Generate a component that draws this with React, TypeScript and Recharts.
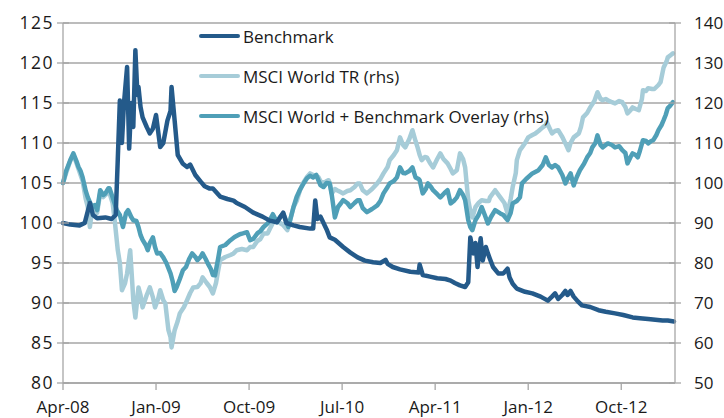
import React from 'react';
import { LineChart, Line, XAxis, YAxis, CartesianGrid, Legend } from 'recharts';

// ── Data (x = months since Apr-08, value) ─────────────────────────
const tickMonths = [0, 9, 18, 27, 36, 45, 54];
const tickLabels = ['Apr-08', 'Jan-09', 'Oct-09', 'Jul-10', 'Apr-11', 'Jan-12', 'Oct-12'];
const leftTicks = [80, 85, 90, 95, 100, 105, 110, 115, 120, 125];
const rightTicks = [50, 60, 70, 80, 90, 100, 110, 120, 130, 140];

// Benchmark, left axis
const benchmark: [number, number][] = [
  [0, 100], [0.7, 99.8], [1.6, 99.7], [2.1, 100], [2.6, 102.5], [2.9, 101], [3.3, 100.6], [4.1, 100.7],
  [4.7, 100.5], [5.1, 101], [5.3, 108], [5.5, 115.3], [5.7, 110], [5.9, 115], [6.2, 119.5], [6.4, 109.3],
  [6.6, 115], [6.8, 112], [7.0, 121.6], [7.2, 116], [7.3, 117], [7.5, 114.5], [7.7, 113.2], [8.1, 112],
  [8.4, 111.2], [8.7, 111.8], [9.0, 113.5], [9.4, 109.5], [9.7, 110], [10.1, 112.8], [10.4, 114], [10.5, 117],
  [10.8, 112.8], [11.1, 108.5], [11.6, 107.4], [12.0, 107], [12.3, 107.3], [12.8, 106], [13.3, 105.2],
  [13.7, 104.6], [14.2, 104.3], [14.5, 104.3], [15.2, 103.3], [15.9, 103], [16.5, 102.8], [16.8, 102.5],
  [17.6, 102], [18.4, 101.3], [19.3, 100.8], [20.0, 100.3], [20.7, 100.1], [21.3, 101.3], [21.6, 100],
  [22.3, 99.7], [22.9, 99.5], [23.9, 99.3], [24.2, 99.3], [24.4, 102.8], [24.6, 100.5], [24.9, 100.8],
  [25.2, 100], [25.5, 99.2], [25.8, 98.2], [26.3, 97.9], [27.1, 97], [27.8, 96.3], [28.5, 95.7], [29.2, 95.3],
  [30.0, 95.1], [30.7, 95], [31.2, 95.4], [31.4, 94.9], [31.9, 94.5], [32.6, 94.2], [33.6, 93.9], [34.4, 93.8],
  [34.5, 94.8], [34.8, 93.5], [35.5, 93.3], [36.2, 93.1], [37.0, 93], [37.5, 92.8], [37.9, 92.5], [38.4, 92.2],
  [38.9, 92], [39.2, 92.6], [39.4, 98.2], [39.7, 96.2], [39.9, 97.5], [40.1, 94.5], [40.4, 98.1], [40.6, 95.3],
  [40.9, 97], [41.1, 96.2], [41.3, 95.5], [41.6, 94.5], [42.1, 93.7], [42.6, 93.7], [43.0, 94.3], [43.2, 93.2],
  [43.5, 92.4], [43.9, 91.8], [44.7, 91.4], [45.4, 91.2], [46.2, 90.8], [46.9, 90.3], [47.3, 90.8],
  [47.6, 91.2], [47.9, 90.5], [48.3, 91], [48.6, 91.5], [48.8, 91], [49.1, 91.5], [49.4, 90.8], [49.8, 90.2],
  [50.2, 89.7], [51.0, 89.5], [51.8, 89.1], [52.5, 88.9], [53.4, 88.7], [54.2, 88.5], [55.1, 88.2],
  [55.8, 88.1], [56.6, 88], [57.3, 87.9], [58.0, 87.8], [58.5, 87.8], [59.1, 87.7],
];

// MSCI World TR, right axis
const msciWorld: [number, number][] = [
  [0, 100], [0.3, 102.5], [0.7, 105.5], [1.0, 107], [1.3, 105], [1.5, 103.5], [1.7, 102], [1.9, 100.5],
  [2.2, 96], [2.4, 94], [2.6, 89], [2.8, 93], [3.1, 94], [3.3, 92.5], [3.6, 97.5], [3.9, 96.5], [4.1, 97],
  [4.4, 98], [4.5, 97.5], [4.8, 95], [5.0, 90.7], [5.3, 83.2], [5.5, 80], [5.7, 73.2], [6.0, 74.9],
  [6.2, 77.4], [6.5, 83.2], [6.7, 75], [6.8, 70.7], [7.0, 66.4], [7.3, 73.9], [7.5, 72], [7.7, 68.9],
  [8.1, 72], [8.4, 73.9], [8.7, 71.4], [8.9, 68.9], [9.2, 71], [9.4, 73.2], [9.7, 70.7], [9.9, 69.9],
  [10.2, 63.2], [10.4, 61.5], [10.5, 58.9], [10.8, 63.2], [11.1, 65.5], [11.3, 67.4], [11.7, 69], [12.0, 70.7],
  [12.3, 72.5], [12.6, 73.9], [13.0, 74], [13.3, 74.9], [13.5, 76.4], [13.9, 75], [14.2, 74], [14.5, 72.4],
  [14.8, 75], [15.0, 78], [15.2, 80.7], [15.7, 81.5], [16.2, 82], [16.5, 82.4], [16.8, 83.2], [17.3, 83.5],
  [17.8, 83.2], [18.1, 84], [18.4, 84], [18.8, 85.5], [19.1, 86], [19.4, 87.4], [19.8, 87.4], [20.0, 88.5],
  [20.3, 90], [20.7, 90.7], [21.0, 90], [21.3, 89.5], [21.7, 88.2], [22.0, 91], [22.3, 94], [22.6, 95.5],
  [22.9, 98], [23.2, 99.9], [23.6, 101.5], [23.9, 102.4], [24.2, 102], [24.4, 101.9], [24.7, 101.5],
  [24.9, 100.5], [25.2, 99.9], [25.5, 100.5], [25.7, 100.7], [25.8, 100], [26.0, 97.4], [26.3, 98.5],
  [26.5, 98.2], [26.8, 97.8], [27.1, 97.4], [27.5, 98], [27.8, 98.2], [28.2, 99], [28.5, 99.9], [28.7, 99.9],
  [29.0, 98.2], [29.4, 97.4], [29.9, 98.5], [30.4, 99.9], [30.7, 101], [31.0, 102.4], [31.4, 104],
  [31.6, 105.7], [32.0, 107], [32.3, 108.2], [32.6, 111.4], [32.9, 109.5], [33.1, 108.9], [33.5, 111],
  [33.8, 113.2], [34.1, 110.5], [34.3, 108.9], [34.5, 107], [34.7, 105.7], [35.0, 106.5], [35.2, 106.4],
  [35.5, 105], [35.8, 103.9], [36.2, 106], [36.5, 107.4], [36.8, 106], [37.2, 104.9], [37.5, 103.5],
  [37.7, 102.4], [38.1, 103.2], [38.4, 107.4], [38.7, 106], [38.9, 103.9], [39.2, 95.7], [39.4, 93],
  [39.6, 91.4], [39.9, 94], [40.2, 95], [40.5, 95.7], [40.9, 95.5], [41.2, 95.5], [41.3, 96.4], [41.8, 98.2],
  [42.3, 96.4], [42.7, 95], [43.0, 92.4], [43.3, 96], [43.5, 99], [43.8, 102.5], [43.9, 105.7], [44.2, 108.2],
  [44.4, 108.9], [44.7, 110], [45.0, 111.4], [45.4, 112], [45.7, 112.4], [46.0, 113], [46.4, 113.9],
  [46.7, 114.5], [46.8, 115.2], [47.1, 113.5], [47.3, 112.4], [47.6, 113], [47.9, 113.2], [48.3, 111.5],
  [48.6, 109.9], [48.9, 108.2], [49.1, 110], [49.4, 111.4], [49.9, 112.4], [50.1, 114], [50.3, 116.4],
  [50.7, 117.5], [51.0, 118.9], [51.4, 120.5], [51.7, 122.7], [52.0, 121], [52.2, 120.7], [52.5, 121],
  [52.7, 120.7], [53.1, 120.2], [53.4, 119.9], [53.8, 120.5], [54.1, 120.2], [54.4, 119], [54.6, 117.4],
  [54.9, 118.2], [55.1, 118.9], [55.4, 118.5], [55.7, 118.2], [56.0, 121], [56.1, 123.2], [56.4, 123],
  [56.6, 123.7], [57.0, 123.5], [57.2, 123.5], [57.6, 124.5], [57.8, 125.2], [58.1, 128.9], [58.4, 130.5],
  [58.5, 131.4], [58.8, 132], [59.0, 132.4],
];

// MSCI World + Benchmark Overlay, right axis
const overlay: [number, number][] = [
  [0, 100], [0.3, 103], [0.7, 105.7], [1.0, 107.4], [1.3, 105.5], [1.5, 104], [1.7, 103], [1.9, 101.4],
  [2.2, 98], [2.4, 96.4], [2.8, 94], [3.1, 94.5], [3.3, 93.2], [3.6, 98.2], [3.9, 97], [4.1, 97.4],
  [4.4, 98.7], [4.5, 98.7], [4.8, 96.4], [5.2, 93.2], [5.5, 92], [5.8, 89], [6.1, 92.5], [6.3, 93.2],
  [6.6, 91.5], [6.8, 90.7], [7.1, 90.5], [7.3, 89], [7.5, 87], [7.7, 85.8], [8.0, 84.5], [8.2, 83.2],
  [8.4, 85], [8.7, 86.4], [8.9, 84], [9.1, 82.4], [9.4, 82.5], [9.7, 81.4], [10.0, 80], [10.4, 77.4],
  [10.6, 75.5], [10.8, 73], [11.0, 74], [11.3, 76], [11.6, 78.2], [11.9, 79], [12.2, 81], [12.5, 82.4],
  [12.8, 81.5], [13.0, 80.7], [13.3, 81.5], [13.5, 82.4], [13.8, 81], [14.0, 79.9], [14.3, 78.5], [14.5, 77],
  [14.7, 76.9], [15.0, 81], [15.2, 84], [15.7, 84.5], [16.2, 85.7], [16.6, 86.5], [17.1, 87.2], [17.4, 87.4],
  [17.8, 87.7], [18.1, 85.7], [18.4, 86], [18.8, 87.4], [19.1, 88], [19.4, 89], [19.8, 89.9], [20.0, 90.7],
  [20.3, 92.2], [20.7, 90.2], [21.0, 91.5], [21.3, 92.4], [21.6, 90.5], [21.8, 89], [22.1, 92], [22.3, 94],
  [22.6, 96.5], [22.9, 98.2], [23.3, 100], [23.6, 101.2], [23.9, 101.8], [24.2, 101.4], [24.5, 102],
  [24.7, 100.7], [24.9, 99.5], [25.2, 99], [25.5, 100], [25.8, 99.9], [26.0, 97], [26.3, 91.4], [26.6, 94],
  [26.9, 95], [27.1, 95.7], [27.5, 95], [27.8, 94], [28.2, 95], [28.5, 95.7], [28.7, 95.7], [29.0, 93.7],
  [29.4, 92.7], [29.9, 93.5], [30.4, 94.4], [30.7, 95.5], [31.0, 97.4], [31.4, 99], [31.6, 99.9], [32.0, 100.5],
  [32.3, 101.4], [32.6, 103.9], [32.9, 102.5], [33.1, 102.4], [33.5, 103], [33.8, 103.9], [34.1, 101.4],
  [34.4, 101], [34.5, 100.7], [34.8, 97.4], [35.1, 98.5], [35.3, 99.9], [35.6, 99], [35.8, 98.2], [36.2, 97.2],
  [36.5, 96.4], [36.9, 97.5], [37.2, 98.2], [37.5, 94.9], [37.8, 95.5], [38.1, 96.4], [38.4, 98.2], [38.7, 97],
  [38.9, 95.7], [39.2, 90.7], [39.4, 89], [39.6, 88.2], [39.9, 90.7], [40.2, 92], [40.5, 94], [40.8, 92],
  [41.1, 89.9], [41.4, 91.5], [41.8, 93.2], [42.3, 92.4], [42.6, 92], [43.0, 90.7], [43.3, 92.5], [43.5, 94.9],
  [43.9, 95.5], [44.2, 96.4], [44.4, 99.9], [44.8, 101], [45.4, 102.4], [46.0, 103.2], [46.4, 104.5],
  [46.7, 106.4], [47.0, 104.5], [47.3, 103.9], [47.6, 104.5], [47.9, 103.9], [48.3, 102], [48.6, 99.9],
  [48.9, 101.5], [49.1, 102.4], [49.4, 99.4], [49.7, 101.5], [50.0, 103.2], [50.4, 104.8], [50.7, 106.4],
  [51.0, 107.5], [51.2, 108.9], [51.5, 110], [51.7, 111.9], [52.0, 109.5], [52.2, 108.9], [52.5, 109.5],
  [52.7, 109.9], [53.1, 109.5], [53.4, 108.9], [53.8, 109.2], [54.1, 108.2], [54.4, 107.5], [54.6, 104.9],
  [54.9, 106.5], [55.1, 107.4], [55.4, 107], [55.6, 106.4], [55.8, 108], [56.1, 110.7], [56.4, 110.5],
  [56.6, 109.9], [56.9, 110.5], [57.1, 110.7], [57.4, 112], [57.6, 113.2], [57.9, 114.5], [58.1, 115.7],
  [58.3, 117], [58.5, 118.7], [58.7, 119.2], [59.0, 120.2],
];

const seriesNames = ['Benchmark', 'MSCI World TR (rhs)', 'MSCI World + Benchmark Overlay (rhs)'];
const seriesColors = ['#245a8a', '#a6ccd8', '#4f9fb7'];

const GRID = '#a6a6a6';
const INK = '#1a1a1a';
const FONT = '"Open Sans", "Noto Sans", sans-serif';

const toPoints = (arr: [number, number][]) => arr.map(([m, v]) => ({ m, v }));

// ── Axis ticks (cross the axis line, like the original) ──────────
function LeftTick(props: any) {
  const { x, y, payload } = props;
  return (
    <g>
      <line x1={x + 4} x2={x + 16} y1={y} y2={y} stroke={GRID} strokeWidth={1.3} />
      <text x={x + 1} y={y} dy="0.355em" textAnchor="end" fontSize={17.5} fill={INK}
        fontFamily={FONT} letterSpacing={1.5}>
        {payload.value}
      </text>
    </g>
  );
}

function RightTick(props: any) {
  const { x, y, payload } = props;
  return (
    <g>
      <line x1={x - 25} x2={x - 13} y1={y} y2={y} stroke={GRID} strokeWidth={1.3} />
      <text x={x} y={y} dy="0.355em" textAnchor="start" fontSize={17} fill={INK} fontFamily={FONT}>
        {payload.value}
      </text>
    </g>
  );
}

function LegendBox() {
  return (
    <div style={{ fontFamily: FONT, fontSize: 17, color: INK }}>
      {seriesNames.map((name, i) => (
        <div key={name} style={{ display: 'flex', alignItems: 'center', height: 40, whiteSpace: 'nowrap' }}>
          <span style={{
            display: 'inline-block', width: 41, height: 4, borderRadius: 2,
            background: seriesColors[i], marginRight: 3,
          }} />
          <span>{name}</span>
        </div>
      ))}
    </div>
  );
}

export default function App() {
  return (
    <div style={{ position: 'absolute', left: 0, top: 0, background: '#fff' }}>
      <LineChart width={724} height={418} margin={{ top: 23, right: 0, bottom: 0, left: 0 }}>
        <CartesianGrid yAxisId="left" vertical={false} stroke={GRID} strokeWidth={1.3} />
        <XAxis
          dataKey="m"
          type="number"
          domain={[0, 59.2]}
          ticks={tickMonths}
          tickFormatter={(v: number) => tickLabels[tickMonths.indexOf(v)]}
          height={35}
          tickSize={7}
          tickMargin={11}
          axisLine={{ stroke: GRID, strokeWidth: 1.3 }}
          tickLine={{ stroke: GRID, strokeWidth: 1.3 }}
          tick={{ fontSize: 17, fill: INK, fontFamily: FONT }}
        />
        <YAxis
          yAxisId="left"
          domain={[80, 125]}
          ticks={leftTicks}
          width={63}
          tickSize={6}
          tickMargin={4}
          axisLine={{ stroke: GRID, strokeWidth: 1.3 }}
          tickLine={false}
          tick={<LeftTick />}
        />
        <YAxis
          yAxisId="right"
          orientation="right"
          domain={[50, 140]}
          ticks={rightTicks}
          width={49}
          tickSize={6}
          tickMargin={13}
          axisLine={{ stroke: GRID, strokeWidth: 1.3 }}
          tickLine={false}
          tick={<RightTick />}
        />
        <Legend
          layout="vertical"
          verticalAlign="middle"
          align="center"
          wrapperStyle={{ top: 16, left: 199, width: 'auto' }}
          content={() => <LegendBox />}
        />
        <Line yAxisId="right" data={toPoints(msciWorld)} dataKey="v" name={seriesNames[1]}
          stroke={seriesColors[1]} strokeWidth={4.5} dot={false} isAnimationActive={false}
          strokeLinejoin="round" strokeLinecap="round" />
        <Line yAxisId="right" data={toPoints(overlay)} dataKey="v" name={seriesNames[2]}
          stroke={seriesColors[2]} strokeWidth={4.5} dot={false} isAnimationActive={false}
          strokeLinejoin="round" strokeLinecap="round" />
        <Line yAxisId="left" data={toPoints(benchmark)} dataKey="v" name={seriesNames[0]}
          stroke={seriesColors[0]} strokeWidth={4.5} dot={false} isAnimationActive={false}
          strokeLinejoin="round" strokeLinecap="round" />
      </LineChart>
    </div>
  );
}
